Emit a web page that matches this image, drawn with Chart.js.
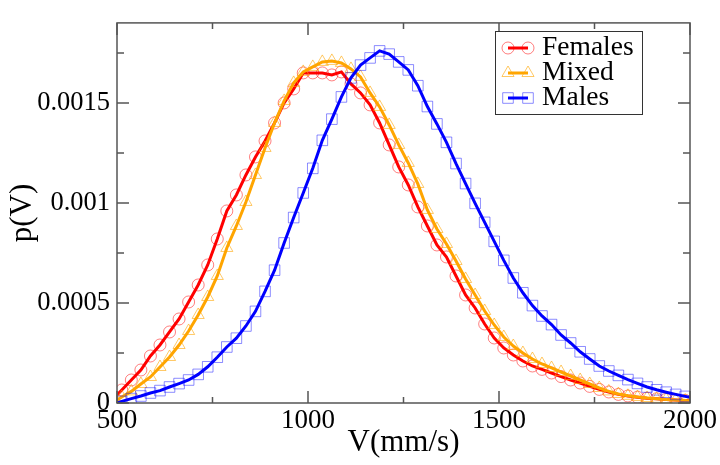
<!DOCTYPE html>
<html>
<head>
<meta charset="utf-8">
<script src="https://cdn.jsdelivr.net/npm/chart.js@4.4.1/dist/chart.umd.min.js"></script>
<style>
  html, body { margin: 0; padding: 0; background: #fff; }
</style>
</head>
<body>
<canvas id="velocityPlot" width="720" height="465"></canvas>
<script>
// bin centres (mm/s), with the two axis ends where the lines start and stop
const velocity = [500,
  512.5, 537.5, 562.5, 587.5, 612.5, 637.5, 662.5, 687.5, 712.5, 737.5,
  762.5, 787.5, 812.5, 837.5, 862.5, 887.5, 912.5, 937.5, 962.5, 987.5,
  1012.5, 1037.5, 1062.5, 1087.5, 1112.5, 1137.5, 1162.5, 1187.5, 1212.5, 1237.5,
  1262.5, 1287.5, 1312.5, 1337.5, 1362.5, 1387.5, 1412.5, 1437.5, 1462.5, 1487.5,
  1512.5, 1537.5, 1562.5, 1587.5, 1612.5, 1637.5, 1662.5, 1687.5, 1712.5, 1737.5,
  1762.5, 1787.5, 1812.5, 1837.5, 1862.5, 1887.5, 1912.5, 1937.5, 1962.5, 1987.5,
  2000];

// p(V) in units of 1e-4
const females = [0.4,
  0.65, 1.15, 1.65, 2.35, 2.9, 3.55, 4.2, 5.05, 5.9, 6.9,
  8.2, 9.6, 10.4, 11.4, 12.3, 13.1, 14.0, 15.0, 15.7, 16.5,
  16.5, 16.5, 16.4, 16.55, 15.95, 15.5, 14.9, 14.0, 12.9, 11.8,
  10.9, 9.8, 8.85, 7.9, 7.3, 6.35, 5.4, 4.75, 3.95, 3.25,
  2.75, 2.4, 2.1, 1.85, 1.68, 1.5, 1.32, 1.15, 1.0, 0.83,
  0.68, 0.55, 0.43, 0.35, 0.29, 0.24, 0.21, 0.18, 0.15, 0.13,
  0.12];

const mixed = [0.15,
  0.3, 0.58, 0.95, 1.3, 1.8, 2.3, 2.9, 3.6, 4.4, 5.3,
  6.35, 7.75, 8.85, 10.05, 11.4, 12.75, 14.0, 15.1, 16.0, 16.55,
  16.8, 17.05, 17.1, 17.0, 16.7, 16.3, 15.5, 14.8, 13.9, 12.9,
  12.0, 10.95, 9.65, 8.7, 7.95, 7.1, 6.2, 5.4, 4.6, 3.9,
  3.3, 2.85, 2.5, 2.2, 1.95, 1.75, 1.55, 1.35, 1.15, 0.95,
  0.75, 0.58, 0.45, 0.36, 0.3, 0.25, 0.21, 0.18, 0.15, 0.12,
  0.1];

const males = [0.0,
  0.08, 0.22, 0.35, 0.5, 0.62, 0.8, 0.97, 1.15, 1.43, 1.81,
  2.29, 2.8, 3.24, 3.85, 4.58, 5.58, 6.64, 8.0, 9.27, 10.5,
  11.73, 13.13, 14.19, 15.3, 16.25, 16.89, 17.25, 17.6, 17.44, 17.05,
  16.65, 15.86, 14.82, 13.95, 13.03, 11.97, 10.97, 9.98, 9.03, 8.08,
  7.13, 6.25, 5.51, 4.87, 4.35, 3.92, 3.4, 3.0, 2.56, 2.2,
  1.85, 1.6, 1.38, 1.17, 0.98, 0.8, 0.66, 0.54, 0.43, 0.33,
  0.28];

const seriesNames = ['Females', 'Mixed', 'Males'];

const xMajor = [500, 1000, 1500, 2000];
const xLabels = ['500', '1000', '1500', '2000'];
const xMinor = [750, 1250, 1750];
const yMajor = [0, 0.0005, 0.001, 0.0015];
const yLabels = ['0', '0.0005', '0.001', '0.0015'];
const yMinor = [0.00025, 0.00075, 0.00125, 0.00175];

const serif = "'Liberation Serif', 'DejaVu Serif', serif";

const styles = [
  { line: '#ff0000', mark: 'rgba(255,0,0,0.5)', shape: 'circle', r: 6 },
  { line: '#ffa500', mark: 'rgba(255,165,0,0.6)', shape: 'triangle', r: 7 },
  { line: '#0000ff', mark: 'rgba(0,0,255,0.45)', shape: 'rect', r: 7.5 }
];

const toPoints = (vals) => vals.map((v, i) => ({ x: velocity[i], y: v * 1e-4 }));

const makeSet = (name, vals, st, order) => ({
  label: name,
  data: toPoints(vals),
  order: order,
  borderColor: st.line,
  borderWidth: 3,
  tension: 0,
  fill: false,
  pointStyle: st.shape,
  pointRadius: (c) => (c.dataIndex === 0 || c.dataIndex === velocity.length - 1) ? 0 : st.r,
  pointBackgroundColor: 'rgba(0,0,0,0)',
  pointBorderColor: st.mark,
  pointBorderWidth: 1,
  pointHoverRadius: st.r
});

// frame and inward ticks on all four sides
const frameTicks = {
  id: 'frameTicks',
  afterDatasetsDraw(chart) {
    const ctx = chart.ctx;
    const a = chart.chartArea;
    const xs = chart.scales.x, ys = chart.scales.y;
    ctx.save();
    ctx.strokeStyle = '#555';
    ctx.lineWidth = 1.5;
    ctx.beginPath();
    const xt = (v, len) => {
      const px = xs.getPixelForValue(v);
      ctx.moveTo(px, a.bottom); ctx.lineTo(px, a.bottom - len);
      ctx.moveTo(px, a.top); ctx.lineTo(px, a.top + len);
    };
    const yt = (v, len) => {
      const py = ys.getPixelForValue(v);
      ctx.moveTo(a.left, py); ctx.lineTo(a.left + len, py);
      ctx.moveTo(a.right, py); ctx.lineTo(a.right - len, py);
    };
    xMajor.forEach(v => xt(v, 12));
    xMinor.forEach(v => xt(v, 6));
    yMajor.forEach(v => yt(v, 12));
    yMinor.forEach(v => yt(v, 7));
    ctx.stroke();
    ctx.strokeRect(a.left, a.top, a.right - a.left, a.bottom - a.top);
    ctx.restore();
  }
};

function drawMark(ctx, shape, x, y, r) {
  ctx.beginPath();
  if (shape === 'circle') {
    ctx.arc(x, y, r, 0, Math.PI * 2);
  } else if (shape === 'triangle') {
    ctx.moveTo(x, y - r);
    ctx.lineTo(x + r * 0.866, y + r * 0.5);
    ctx.lineTo(x - r * 0.866, y + r * 0.5);
    ctx.closePath();
  } else {
    const s = r * Math.SQRT1_2;
    ctx.rect(x - s, y - s, 2 * s, 2 * s);
  }
  ctx.stroke();
}

const boxLegend = {
  id: 'boxLegend',
  afterDraw(chart) {
    const ctx = chart.ctx;
    ctx.save();
    ctx.fillStyle = '#fff';
    ctx.fillRect(496, 32, 146, 83);
    ctx.strokeStyle = '#333';
    ctx.lineWidth = 1;
    ctx.strokeRect(495.5, 31.5, 147, 83);
    seriesNames.forEach((name, i) => {
      const st = styles[i];
      const y = 48 + i * 25;
      ctx.strokeStyle = st.line;
      ctx.lineWidth = 3;
      ctx.beginPath();
      ctx.moveTo(508, y); ctx.lineTo(528, y);
      ctx.stroke();
      ctx.strokeStyle = st.mark;
      ctx.lineWidth = 1;
      drawMark(ctx, st.shape, 508, y, st.r);
      drawMark(ctx, st.shape, 528, y, st.r);
      ctx.fillStyle = '#000';
      ctx.font = '27.5px ' + serif;
      ctx.textBaseline = 'middle';
      ctx.textAlign = 'left';
      ctx.fillText(name, 542, y);
    });
    ctx.restore();
  }
};

const plotCanvas = document.getElementById('velocityPlot');

new Chart(plotCanvas, {
  type: 'line',
  data: {
    datasets: [
      makeSet(seriesNames[0], females, styles[0], 3),
      makeSet(seriesNames[1], mixed, styles[1], 2),
      makeSet(seriesNames[2], males, styles[2], 1)
    ]
  },
  options: {
    responsive: false,
    animation: false,
    devicePixelRatio: 1,
    layout: { padding: { top: 4, right: 30, left: 0, bottom: 0 } },
    plugins: {
      legend: { display: false },
      tooltip: { enabled: false }
    },
    scales: {
      x: {
        type: 'linear',
        position: 'bottom',
        min: 500,
        max: 2000,
        grid: { display: false, drawTicks: false },
        border: { display: false },
        afterBuildTicks: (s) => { s.ticks = xMajor.map(v => ({ value: v })); },
        afterFit: (s) => { s.height = 62; },
        ticks: {
          color: '#000',
          font: { family: serif, size: 27 },
          padding: 2,
          maxRotation: 0,
          autoSkip: false,
          callback: (v, i) => xLabels[i]
        },
        title: {
          display: true,
          text: 'V(mm/s)',
          color: '#000',
          font: { family: serif, size: 31 },
          padding: { top: 0, bottom: 4 }
        }
      },
      y: {
        type: 'linear',
        position: 'left',
        min: 0,
        max: 0.0019,
        grid: { display: false, drawTicks: false },
        border: { display: false },
        afterBuildTicks: (s) => { s.ticks = yMajor.map(v => ({ value: v })); },
        afterFit: (s) => { s.width = 117; },
        ticks: {
          color: '#000',
          font: { family: serif, size: 26.5 },
          padding: 7,
          autoSkip: false,
          callback: (v, i) => yLabels[i]
        },
        title: {
          display: true,
          text: 'p(V)',
          color: '#000',
          font: { family: serif, size: 31 },
          padding: { top: 4, bottom: 0 }
        }
      }
    }
  },
  plugins: [frameTicks, boxLegend]
});
</script>
</body>
</html>
